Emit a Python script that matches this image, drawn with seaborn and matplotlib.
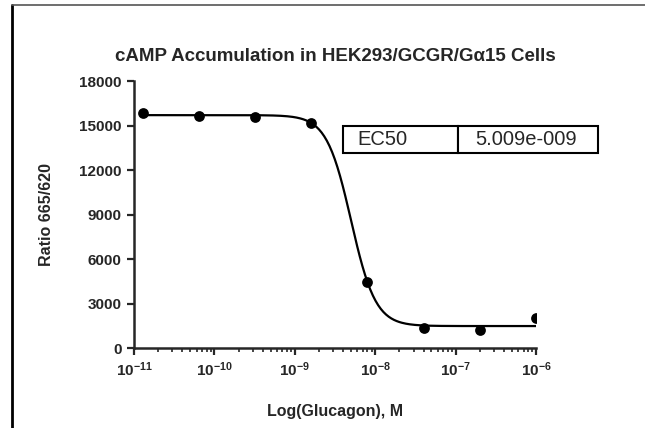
import numpy as np
import pandas as pd
import matplotlib
matplotlib.use("Agg")
import matplotlib.pyplot as plt
import matplotlib.ticker as mticker
import seaborn as sns

# glucagon concentrations (M), 5-fold dilution series
conc = [1.28e-11, 6.4e-11, 3.2e-10, 1.6e-9, 8e-9, 4e-8, 2e-7, 1e-6]
ratio = [15850, 15650, 15580, 15170, 4450, 1350, 1210, 2020]

# fitted 4PL parameters (GraphPad fit)
fit_top = 15700
fit_bottom = 1480
fit_ec50 = 5.009e-9
fit_hill = -2.85

x_ticks = [1e-11, 1e-10, 1e-9, 1e-8, 1e-7, 1e-6]
x_ticklabels = ["-11", "-10", "-9", "-8", "-7", "-6"]
y_ticks = [0, 3000, 6000, 9000, 12000, 15000, 18000]

df = pd.DataFrame({"conc": conc, "ratio": ratio})
xx = np.logspace(np.log10(conc[0]), np.log10(conc[-1]), 300)
curve = pd.DataFrame({
    "conc": xx,
    "ratio": fit_bottom + (fit_top - fit_bottom) / (1 + 10 ** ((np.log10(fit_ec50) - np.log10(xx)) * fit_hill)),
})

sns.set_style("ticks")
plt.rcParams["font.family"] = ["Liberation Sans", "DejaVu Sans"]
plt.rcParams["mathtext.fontset"] = "custom"
plt.rcParams["mathtext.rm"] = "Liberation Sans:bold"
plt.rcParams["mathtext.bf"] = "Liberation Sans:bold"

fig = plt.figure(figsize=(6.45, 4.28), dpi=100)
ax = fig.add_axes([0.2078, 0.1869, 0.6233, 0.6238])

sns.lineplot(data=curve, x="conc", y="ratio", ax=ax, color="black", lw=1.6)
sns.scatterplot(data=df, x="conc", y="ratio", ax=ax, color="black", s=60,
                edgecolor="black", linewidth=0, zorder=5)

ax.set_xscale("log")
ax.set_xlim(1e-11, 1e-6)
ax.set_ylim(0, 18000)
ax.set_xticks(x_ticks)
ax.set_xticklabels([r"$\mathbf{10^{" + t + "}}$" for t in x_ticklabels])
ax.xaxis.set_minor_locator(mticker.LogLocator(base=10, subs=np.arange(2, 10)))
ax.xaxis.set_minor_formatter(mticker.NullFormatter())
ax.set_yticks(y_ticks)
ax.set_yticklabels([str(v) for v in y_ticks])

for sp in ["top", "right"]:
    ax.spines[sp].set_visible(False)
for sp in ["left", "bottom"]:
    ax.spines[sp].set_linewidth(1.8)
ax.tick_params(axis="both", which="major", length=5, width=1.6, labelsize=11, pad=4)
ax.tick_params(axis="x", which="minor", length=3, width=1.2)
for lab in ax.get_yticklabels():
    lab.set_fontweight("bold")

ax.set_xlabel("Log(Glucagon), M", fontsize=11.5, fontweight="bold", labelpad=18)
ax.set_ylabel("Ratio 665/620", fontsize=11.5, fontweight="bold", labelpad=18)

fig.text(0.52, 0.867, "cAMP Accumulation in HEK293/GCGR/G\u03b115 Cells",
         ha="center", va="center", fontsize=13.5, fontweight="bold")

tbl = ax.table(cellText=[["EC50", "5.009e-009"]], cellLoc="left",
               colWidths=[115 / 255 * 0.634, 140 / 255 * 0.634],
               bbox=[0.52, 0.730, 0.634, 0.101])
tbl.auto_set_font_size(False)
for cell in tbl.get_celld().values():
    cell.set_linewidth(1.5)
    cell.get_text().set_fontsize(14.5)
    cell.PAD = 0.12

# frame lines around the figure (left and top only)
fig.add_artist(plt.Line2D([12 / 645, 12 / 645], [0, 1 - 5 / 428], color="black", lw=2,
                          transform=fig.transFigure))
fig.add_artist(plt.Line2D([12 / 645, 1], [1 - 5 / 428, 1 - 5 / 428], color="#555555", lw=1.2,
                          transform=fig.transFigure))

fig.savefig("out.png", dpi=100)
